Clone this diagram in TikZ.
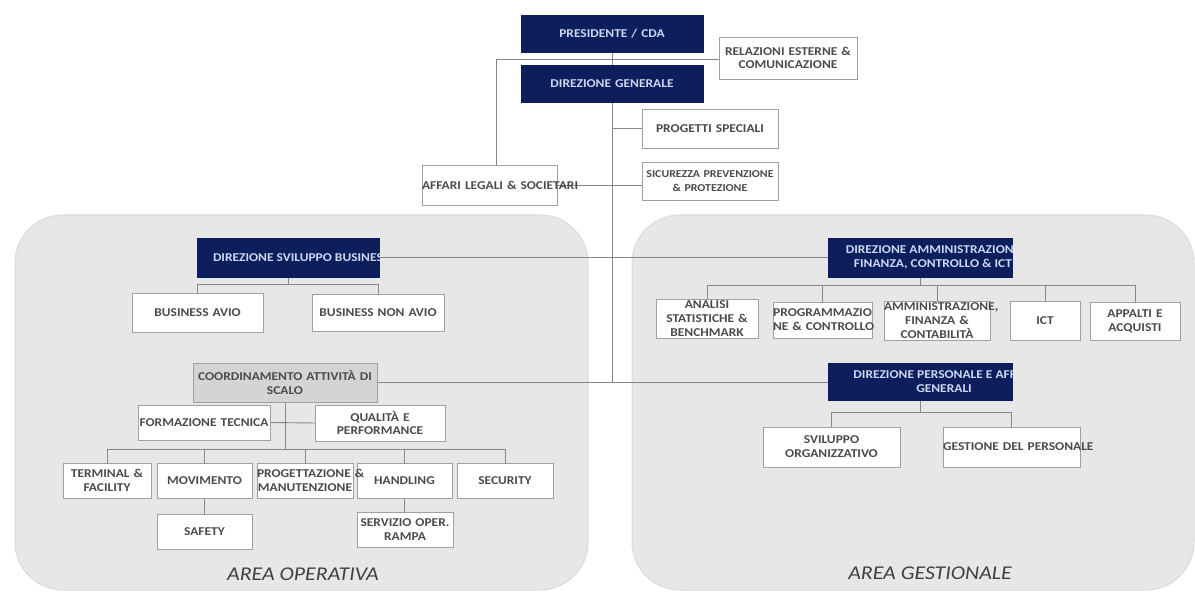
\documentclass[tikz,border=0pt]{standalone}
\usepackage{fontspec}
\setmainfont{Carlito}[FakeStretch=1.12]
\definecolor{navy}{RGB}{12,30,92}
\definecolor{navytxt}{RGB}{205,215,240}
\definecolor{boxtxt}{RGB}{75,75,75}
\definecolor{boxline}{RGB}{160,160,160}
\definecolor{connc}{RGB}{135,135,135}
\definecolor{panelc}{RGB}{231,231,231}
\definecolor{paneledge}{RGB}{218,218,218}
\definecolor{coordc}{RGB}{212,212,212}
\pgfdeclarelayer{bg}
\pgfdeclarelayer{lines}
\pgfsetlayers{bg,lines,main}
\newcommand\ol[1]{\mbox{#1}}
\begin{document}
\begin{tikzpicture}[x=1pt,y=-1pt,
  every node/.style={inner sep=0pt, outer sep=0pt},
  base/.style={rectangle, align=center, font=\bfseries\fontsize{12}{13.8}\selectfont},
  sz/.style 2 args={minimum width=#1pt, minimum height=#2pt, text width=#1pt},
  msz/.style 2 args={minimum width=#1pt, minimum height=#2pt},
  nbox/.style={base, fill=navy, draw=navy, text=navytxt},
  ntxt/.style={align=center, text=navytxt, font=\bfseries\fontsize{12}{14}\selectfont},
  wbox/.style={base, fill=white, draw=boxline, line width=0.8pt, text=boxtxt},
  gbox/.style={wbox, fill=coordc},
  conn/.style={draw=connc, line width=0.9pt},
  panel/.style={fill=panelc, draw=paneledge, line width=1pt, rounded corners=48pt},
  area/.style={font=\itshape\fontsize{19.5}{22}\selectfont, text=black!75}]
\useasboundingbox (0,0) rectangle (1195,593);

\begin{pgfonlayer}{bg}
  \draw[panel] (15,215) rectangle (588,590);
  \draw[panel] (632,215) rectangle (1194,590);
\end{pgfonlayer}

% top
\node[nbox, sz={182}{37}] (pres) at (612,33.5) {\ol{PRESIDENTE / CDA}};
\node[nbox, sz={182}{37}] (dg) at (612,83.5) {\ol{DIREZIONE GENERALE}};
\node[wbox, sz={138}{42}] (rel) at (788,58) {\ol{RELAZIONI ESTERNE \&}\\\ol{COMUNICAZIONE}};
\node[wbox, sz={136}{39}] (prog) at (710,128.5) {\ol{PROGETTI SPECIALI}};
\node[wbox, sz={136}{38}, font=\bfseries\fontsize{10.6}{13.8}\selectfont] (sic) at (710,181) {\ol{SICUREZZA PREVENZIONE}\\\ol{\& PROTEZIONE}};
\node[wbox, sz={135}{40}] (aff) at (489.5,185) {\ol{AFFARI LEGALI \& SOCIETARI}};

% left area
\node[nbox, msz={182}{39}] (dsb) at (288,257.5) {};
\begin{scope}
  \clip (dsb.south west) rectangle (dsb.north east);
  \node[ntxt, anchor=west] (dsbt) at (213,257.5) {DIREZIONE SVILUPPO BUSINESS};
\end{scope}
\node[wbox, sz={131}{39}] (bavio) at (197.5,312.5) {\ol{BUSINESS AVIO}};
\node[wbox, sz={132}{37}] (bnavio) at (378,312.5) {\ol{BUSINESS NON AVIO}};
\node[gbox, sz={184}{39}] (coord) at (285,382.5) {\ol{COORDINAMENTO ATTIVITÀ DI}\\\ol{SCALO}};
\node[wbox, sz={132}{35}] (ft) at (204,422.5) {\ol{FORMAZIONE TECNICA}};
\node[wbox, sz={130}{36}] (qp) at (380,423) {\ol{QUALITÀ E}\\\ol{PERFORMANCE}};
\node[wbox, sz={88}{35}] (term) at (107,480.5) {\ol{TERMINAL \&}\\\ol{FACILITY}};
\node[wbox, sz={95}{35}] (mov) at (204.5,480.5) {\ol{MOVIMENTO}};
\node[wbox, sz={95}{35}] (hand) at (404.5,480.5) {\ol{HANDLING}};
\node[wbox, sz={96}{35}] (progman) at (305,480.5) {\ol{PROGETTAZIONE \&}\\\ol{MANUTENZIONE}};
\node[wbox, sz={96}{35}] (secu) at (505,480.5) {\ol{SECURITY}};
\node[wbox, sz={95}{35}] (safety) at (204.5,531.5) {\ol{SAFETY}};
\node[wbox, sz={96}{35}] (serv) at (405,529.5) {\ol{SERVIZIO OPER.}\\\ol{RAMPA}};
\node[area] (aop) at (303,574) {AREA OPERATIVA};

% right area
\node[nbox, msz={184}{39}] (dafc) at (920,257.5) {};
\begin{scope}
  \clip (dafc.south west) rectangle (dafc.north east);
  \node[ntxt] (dafct) at (933,257.5) {DIREZIONE AMMINISTRAZIONE\\FINANZA, CONTROLLO \& ICT};
\end{scope}
\node[wbox, sz={102}{39}] (anal) at (707,318.5) {\ol{ANALISI}\\\ol{STATISTICHE \&}\\\ol{BENCHMARK}};
\node[wbox, sz={99}{36}] (progr) at (822.5,320) {\ol{PROGRAMMAZIO}\\\ol{NE \& CONTROLLO}};
\node[wbox, sz={106}{39}] (amm) at (937,320.5) {\ol{AMMINISTRAZIONE,}\\\ol{FINANZA \&}\\\ol{CONTABILITÀ}};
\node[wbox, sz={70}{39}] (ict) at (1045,320.5) {\ol{ICT}};
\node[wbox, sz={90}{38}] (app) at (1135,321) {\ol{APPALTI E}\\\ol{ACQUISTI}};
\node[nbox, msz={184}{37}] (dpag) at (920,381.5) {};
\begin{scope}
  \clip (dpag.south west) rectangle (dpag.north east);
  \node[ntxt] (dpagt) at (944,381.5) {DIREZIONE PERSONALE E AFFARI\\GENERALI};
\end{scope}
\node[wbox, sz={137}{40}] (svo) at (831.5,447) {\ol{SVILUPPO}\\\ol{ORGANIZZATIVO}};
\node[wbox, sz={137}{40}] (gdp) at (1011.5,447) {\ol{GESTIONE DEL PERSONALE}};
\node[area] (ages) at (930,573) {AREA GESTIONALE};

% connectors
\begin{pgfonlayer}{lines}
  \coordinate (jL) at (496,59);
  \coordinate (tb) at (612,382);
  \coordinate (b1) at (0,284);
  \coordinate (b2) at (0,449);
  \coordinate (b3) at (0,285);
  \coordinate (b4) at (0,412);
  \draw[conn] (pres.south) -- (dg.north);
  \draw[conn] (jL) -- (jL -| rel.west);
  \draw[conn] (jL) -- (jL |- aff.north);
  \draw[conn] (dg.south) -- (tb);
  \draw[conn] (dg.south |- prog.west) -- (prog.west);
  \draw[conn] (aff.east) -- (aff.east -| sic.west);
  \draw[conn] (dsb.east) -- (dafc.west);
  \draw[conn] (coord.east) -- (coord.east -| dpag.west);
  \foreach \c in {bavio,bnavio}
    \draw[conn] (dsb.south) -- (dsb.south |- b1) -| (\c.north);
  \foreach \c in {term,mov,progman,hand,secu}
    \draw[conn] (coord.south) -- (coord.south |- b2) -| (\c.north);
  \draw[conn] (ft.east) -- (qp.west);
  \draw[conn] (mov.south) -- (safety.north);
  \draw[conn] (hand.south) -- (hand.south |- serv.north);
  \foreach \c in {anal,progr,amm,ict,app}
    \draw[conn] (dafc.south) -- (dafc.south |- b3) -| (\c.north);
  \foreach \c in {svo,gdp}
    \draw[conn] (dpag.south) -- (dpag.south |- b4) -| (\c.north);
\end{pgfonlayer}
\end{tikzpicture}
\end{document}
